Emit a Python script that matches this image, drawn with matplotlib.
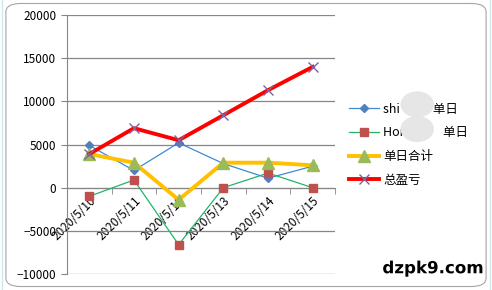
import numpy as np
import matplotlib
matplotlib.use("Agg")
import matplotlib.pyplot as plt  # noqa: E402
from matplotlib.patches import FancyBboxPatch, Ellipse  # noqa: E402
import matplotlib.patheffects as pe  # noqa: E402

plt.rcParams['font.family'] = ['Noto Sans CJK SC', 'DejaVu Sans']

dates = ["2020/5/10", "2020/5/11", "2020/5/12", "2020/5/13", "2020/5/14", "2020/5/15"]
shi_day = [4900, 2000, 5200, 2800, 1100, 2500]
hon_day = [-1000, 900, -6600, 0, 1700, 0]
day_total = [3900, 2900, -1400, 2900, 2900, 2600]
cum_pnl = [3900, 6900, 5500, 8400, 11300, 14000]
labels = ["shi            单日", "Hon             单日", "单日合计", "总盈亏"]

fig = plt.figure(figsize=(4.92, 2.90), dpi=100)
# spreadsheet background behind the chart frame
fig.patch.set_facecolor("white")
for gx in [0.004, 0.996]:
    fig.add_artist(plt.Line2D([gx, gx], [0, 1], color="#cfe6ea", lw=1))
frame = FancyBboxPatch((0.012, 0.012), 0.976, 0.976, boxstyle="round,pad=0,rounding_size=0.03",
                       transform=fig.transFigure, fc="white", ec="#a6a6a6", lw=0.8, zorder=0)
fig.add_artist(frame)

ax = fig.add_axes([0.136, 0.055, 0.545, 0.893])
ax.set_facecolor("none")
x = np.arange(len(dates))

ax.plot(x, shi_day, color="#3d8ad6", lw=0.9, marker="D", ms=4.5, mfc="#4f81bd", mec="#4f81bd", label=labels[0], zorder=3)
ax.plot(x, hon_day, color="#22b56a", lw=0.9, marker="s", ms=6, mfc="#c0504d", mec="#c0504d", label=labels[1], zorder=3)
ax.plot(x, day_total, color="#ffc000", lw=2.8, marker="^", ms=8, mfc="#9bbb59", mec="#9bbb59", label=labels[2], zorder=4)
ax.plot(x, cum_pnl, color="#ff0000", lw=2.8, marker="x", ms=7, mec="#8064a2", mew=1, label=labels[3], zorder=5)

ax.set_xlim(-0.5, len(dates) - 0.5)
ax.set_ylim(-10000, 20000)
ax.set_yticks(np.arange(-10000, 20001, 5000))
ax.grid(axis="y", color="#868686", lw=0.9)
ax.set_axisbelow(True)
for s in ["top", "right"]:
    ax.spines[s].set_visible(False)
ax.spines["left"].set_color("#868686")
ax.spines["bottom"].set_color("#868686")
ax.spines["bottom"].set_position(("data", 0))
ax.set_xticks(x)
ax.set_xticklabels(dates, rotation=45, ha="right", va="top", rotation_mode="anchor")
ax.set_xticks(np.arange(-0.5, len(dates), 1), minor=True)
ax.tick_params(axis="x", which="major", length=0, labelsize=8.5, pad=5)
ax.tick_params(axis="x", which="minor", length=4, color="#868686")
ax.tick_params(axis="y", length=4, color="#868686", labelsize=8.5)
for t in ax.get_xticklabels():
    t.set_x(t.get_position()[0] + 0.08)

leg = ax.legend(loc="center left", bbox_to_anchor=(1.02, 0.5), frameon=False, fontsize=9,
                handlelength=2.4, handletextpad=0.3, labelspacing=0.85, borderaxespad=0.3)
# blurred (anonymised) parts of the first two labels
for ey in [0.64, 0.555]:
    fig.add_artist(Ellipse((0.848, ey), 0.068, 0.09, transform=fig.transFigure,
                           fc="#e6e6e6", ec="none", zorder=10))

fig.text(0.88, 0.075, "dzpk9.com", ha="center", va="center", fontsize=12, fontweight="bold",
         family="DejaVu Sans", color="black",
         path_effects=[pe.withStroke(linewidth=2.5, foreground="white")])

fig.savefig("out.png", dpi=100)
